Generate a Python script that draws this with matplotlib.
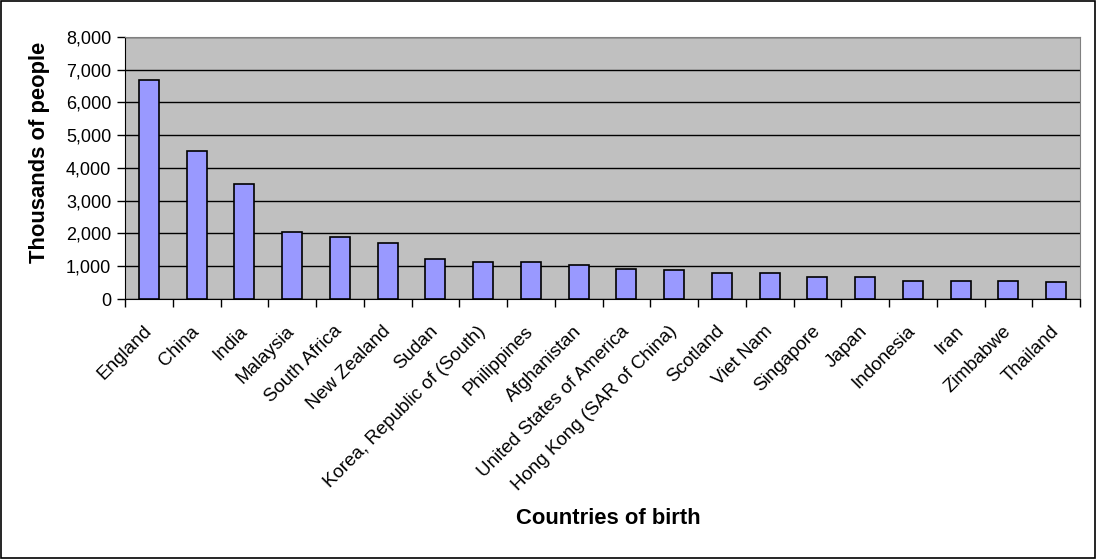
import matplotlib.pyplot as plt
import matplotlib.transforms as mtransforms
import numpy as np

plt.rcParams['font.family'] = ['Liberation Sans', 'DejaVu Sans']

# Données
pays = ["England", "China", "India", "Malaysia", "South Africa", "New Zealand",
        "Sudan", "Korea, Republic of (South)", "Philippines", "Afghanistan",
        "United States of America", "Hong Kong (SAR of China)", "Scotland",
        "Viet Nam", "Singapore", "Japan", "Indonesia", "Iran", "Zimbabwe",
        "Thailand"]
milliers = [6700, 4530, 3500, 2040, 1880, 1725, 1230, 1130, 1130, 1025,
            930, 880, 780, 780, 670, 670, 560, 560, 560, 510]
graduations = [0, 1000, 2000, 3000, 4000, 5000, 6000, 7000, 8000]

fig = plt.figure(figsize=(10.97, 5.59), dpi=100)
fig.patches.append(plt.Rectangle((0.001, 0.002), 0.997, 0.996, transform=fig.transFigure,
                                 fill=False, edgecolor='black', linewidth=1.2))
ax = fig.add_axes([125 / 1097, 1 - 299 / 559, (1080 - 125) / 1097, (299 - 37) / 559])

x = np.arange(len(pays))
ax.bar(x, milliers, width=0.42, color='#9999FF', edgecolor='black', linewidth=1.2, zorder=3)

ax.set_facecolor('#C0C0C0')
ax.set_xlim(-0.5, len(pays) - 0.5)
ax.set_ylim(0, 8000)
ax.set_yticks(graduations)
ax.set_yticklabels([f"{v:,}" for v in graduations], fontsize=13)
ax.yaxis.grid(True, color='black', linewidth=1)
ax.set_axisbelow(True)

ax.set_xticks(x)
ax.set_xticklabels(pays, rotation=45, ha='right', rotation_mode='anchor', fontsize=13.5)
ax.tick_params(axis='x', length=0, pad=17)
# décalage des étiquettes vers la gauche, comme dans Excel
decalage = mtransforms.ScaledTranslation(-6 / 100, 0, fig.dpi_scale_trans)
for etiquette in ax.get_xticklabels():
    etiquette.set_transform(etiquette.get_transform() + decalage)
ax.set_xticks(np.arange(len(pays) + 1) - 0.5, minor=True)
ax.tick_params(axis='x', which='minor', length=6, direction='out', width=1)
ax.tick_params(axis='y', length=6, direction='out', width=1, pad=4)

for cote in ['top', 'right']:
    ax.spines[cote].set_color('#808080')
for cote in ['left', 'bottom']:
    ax.spines[cote].set_color('black')

fig.text(40 / 1097, 1 - 152 / 559, "Thousands of people", rotation=90,
         ha='center', va='center', fontsize=15.8, fontweight='bold')
fig.text(608 / 1097, 1 - 518 / 559, "Countries of birth",
         ha='center', va='center', fontsize=15.8, fontweight='bold')

fig.savefig("out.png", dpi=100)
